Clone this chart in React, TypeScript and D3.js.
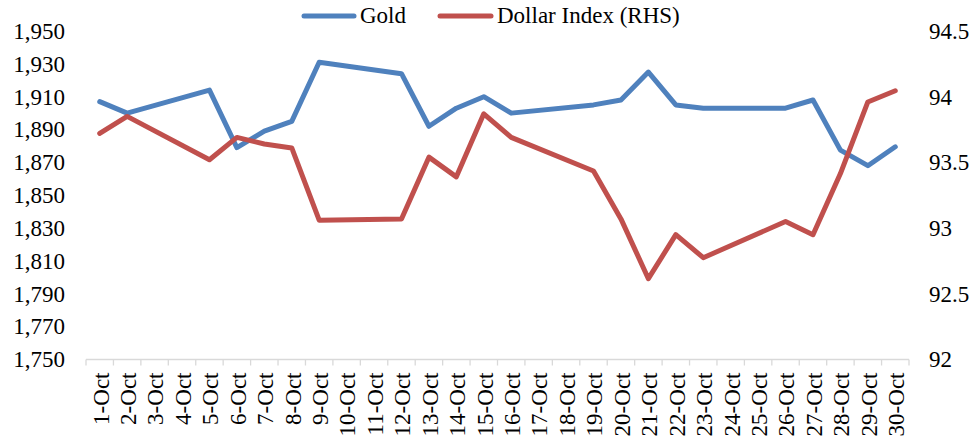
import React from "react";
import * as d3 from "d3";

const categories = [
  "1-Oct", "2-Oct", "3-Oct", "4-Oct", "5-Oct", "6-Oct", "7-Oct", "8-Oct", "9-Oct", "10-Oct",
  "11-Oct", "12-Oct", "13-Oct", "14-Oct", "15-Oct", "16-Oct", "17-Oct", "18-Oct", "19-Oct", "20-Oct",
  "21-Oct", "22-Oct", "23-Oct", "24-Oct", "25-Oct", "26-Oct", "27-Oct", "28-Oct", "29-Oct", "30-Oct",
];

// null = no trading (weekend); the line connects across gaps
const gold: (number | null)[] = [
  1907, 1900, null, null, 1914, 1879, 1889, 1895, 1931, null,
  null, 1924, 1892, 1903, 1910, 1900, null, null, 1905, 1908,
  1925, 1905, 1903, null, null, 1903, 1908, 1877.5, 1868, 1879.5,
];

const dollarIndex: (number | null)[] = [
  93.72, 93.85, null, null, 93.52, 93.69, 93.64, 93.61, 93.06, null,
  null, 93.07, 93.54, 93.39, 93.87, 93.69, null, null, 93.435, 93.07,
  92.615, 92.95, 92.775, null, null, 93.05, 92.95, 93.415, 93.96, 94.045,
];

const leftTicks = [1750, 1770, 1790, 1810, 1830, 1850, 1870, 1890, 1910, 1930, 1950];
const rightTicks = [92, 92.5, 93, 93.5, 94, 94.5];

const W = 977;
const H = 442;
const FONT = "'Liberation Serif', 'Times New Roman', serif";
const BLUE = "#4f81bd";
const RED = "#c0504d";
const GRID = "#d9d9d9";

export default function App() {
  const x = d3.scaleBand<string>().domain(categories).range([86, 909]);
  const cx = (c: string) => (x(c) as number) + x.bandwidth() / 2;
  const yL = d3.scaleLinear().domain([1750, 1950]).range([359.5, 31]);
  const yR = d3.scaleLinear().domain([92, 94.5]).range([359.5, 31]);

  const goldPts = categories
    .map((c, i) => ({ c, v: gold[i] }))
    .filter((d) => d.v !== null) as { c: string; v: number }[];
  const dollarPts = categories
    .map((c, i) => ({ c, v: dollarIndex[i] }))
    .filter((d) => d.v !== null) as { c: string; v: number }[];

  const goldLine = d3
    .line<{ c: string; v: number }>()
    .x((d) => cx(d.c))
    .y((d) => yL(d.v))(goldPts) as string;
  const dollarLine = d3
    .line<{ c: string; v: number }>()
    .x((d) => cx(d.c))
    .y((d) => yR(d.v))(dollarPts) as string;

  const fmtL = d3.format(",");
  const boundaries = [...categories.map((c) => x(c) as number), 909];
  const axisY = yL(1750);

  return (
    <svg
      width={W}
      height={H}
      style={{ position: "absolute", left: 0, top: 0, background: "#fff" }}
      fontFamily={FONT}
    >
      <rect x={0} y={0} width={W} height={H} fill="#fff" />
      {/* x axis */}
      <line x1={86} x2={909} y1={axisY} y2={axisY} stroke={GRID} strokeWidth={1.3} />
      {boundaries.map((bx, i) => (
        <line key={i} x1={bx} x2={bx} y1={axisY} y2={axisY + 6} stroke={GRID} strokeWidth={1.3} />
      ))}
      {categories.map((c) => (
        <text
          key={c}
          transform={`translate(${cx(c) + 1},${axisY + 13}) rotate(-90)`}
          textAnchor="end"
          dy="0.34em"
          fontSize={23}
          fill="#000"
        >
          {c}
        </text>
      ))}
      {/* left axis labels */}
      {leftTicks.map((t) => (
        <text key={t} x={65} y={yL(t)} dy="0.34em" textAnchor="end" fontSize={23} fill="#000">
          {fmtL(t)}
        </text>
      ))}
      {/* right axis labels */}
      {rightTicks.map((t) => (
        <text key={t} x={929} y={yR(t)} dy="0.34em" textAnchor="start" fontSize={23} fill="#000">
          {String(t)}
        </text>
      ))}
      {/* series */}
      <path d={goldLine} fill="none" stroke={BLUE} strokeWidth={5} strokeLinejoin="round" strokeLinecap="round" />
      <path d={dollarLine} fill="none" stroke={RED} strokeWidth={5} strokeLinejoin="round" strokeLinecap="round" />
      {/* legend */}
      <line x1={304} x2={354} y1={16} y2={16} stroke={BLUE} strokeWidth={5} strokeLinecap="round" />
      <text x={360} y={23} fontSize={23} fill="#000">Gold</text>
      <line x1={440} x2={491} y1={16} y2={16} stroke={RED} strokeWidth={5} strokeLinecap="round" />
      <text x={497} y={23} fontSize={23} fill="#000">Dollar Index (RHS)</text>
    </svg>
  );
}
